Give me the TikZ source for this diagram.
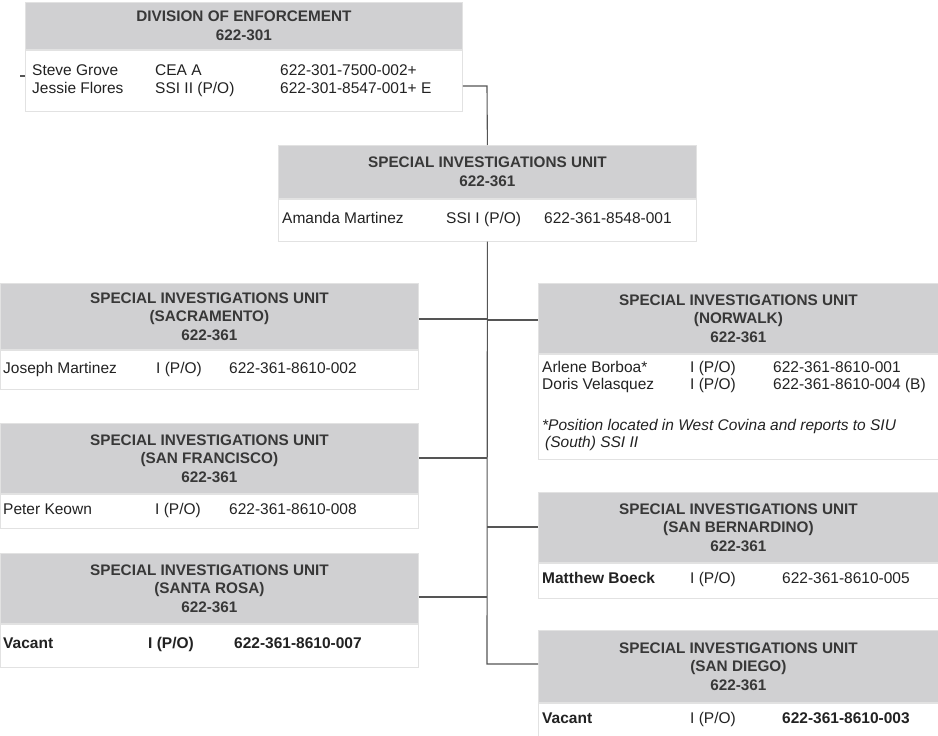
\documentclass[tikz,border=0pt]{standalone}
\usepackage{fontspec}
\setmainfont{Liberation Sans}
\definecolor{hdrgray}{HTML}{D0D0D2}
\definecolor{bordergray}{HTML}{E2E2E2}
\definecolor{hdrtext}{HTML}{383838}
\definecolor{bodytext}{HTML}{222222}
\definecolor{linegray}{HTML}{555555}
\tikzset{
  hdr/.style={fill=hdrgray, draw=bordergray, line width=0.8pt, text=hdrtext,
    font=\bfseries\fontsize{15.3}{18.5}\selectfont, align=center, inner sep=0pt, anchor=north west},
  bodybox/.style={fill=white, draw=bordergray, line width=0.8pt, inner sep=0pt, anchor=north west},
  txt/.style={anchor=base west, yshift=-5.5pt, inner sep=0pt, text=bodytext, font=\fontsize{15.5}{18}\selectfont},
  btxt/.style={txt, font=\bfseries\fontsize{15.5}{18}\selectfont},
  itxt/.style={txt, font=\itshape\fontsize{15.5}{18}\selectfont},
  conn/.style={draw=linegray, line width=1.1pt}
}
\begin{document}
\begin{tikzpicture}[x=1pt,y=-1pt]
\useasboundingbox (0,0) rectangle (938,736);

% ---- Division of Enforcement
\node[hdr, minimum width=437pt, minimum height=47pt] (doeH) at (25,2) {DIVISION OF ENFORCEMENT\\622-301};
\node[bodybox, minimum width=437pt, minimum height=61pt] (doeB) at (doeH.south west) {};
\node[txt] (doeN1) at (32,70) {Steve Grove};
\node[txt] (doeT1) at (155,70) {CEA A};
\node[txt] (doeP1) at (280,70) {622-301-7500-002+};
\node[txt] (doeN2) at (32,88) {Jessie Flores};
\node[txt] (doeT2) at (155,88) {SSI II (P/O)};
\node[txt] (doeP2) at (280,88) {622-301-8547-001+ E};

% ---- SIU
\node[hdr, minimum width=418pt, minimum height=53pt] (siuH) at (278,145) {SPECIAL INVESTIGATIONS UNIT\\622-361};
\node[bodybox, minimum width=418pt, minimum height=42pt] (siuB) at (siuH.south west) {};
\node[txt] (siuN1) at (282,218) {Amanda Martinez};
\node[txt] (siuT1) at (446,218) {SSI I (P/O)};
\node[txt] (siuP1) at (544,218) {622-361-8548-001};

% ---- Sacramento
\node[hdr, minimum width=418pt, minimum height=66pt] (sacH) at (0,283) {SPECIAL INVESTIGATIONS UNIT\\(SACRAMENTO)\\622-361};
\node[bodybox, minimum width=418pt, minimum height=39pt] (sacB) at (sacH.south west) {};
\node[txt] (sacN1) at (3,368) {Joseph Martinez};
\node[txt] (sacT1) at (156,368) {I (P/O)};
\node[txt] (sacP1) at (229,368) {622-361-8610-002};

% ---- San Francisco
\node[hdr, minimum width=418pt, minimum height=70pt] (sfH) at (0,423) {SPECIAL INVESTIGATIONS UNIT\\(SAN FRANCISCO)\\622-361};
\node[bodybox, minimum width=418pt, minimum height=34pt] (sfB) at (sfH.south west) {};
\node[txt] (sfN1) at (3,509) {Peter Keown};
\node[txt] (sfT1) at (155,509) {I (P/O)};
\node[txt] (sfP1) at (229,509) {622-361-8610-008};

% ---- Santa Rosa
\node[hdr, minimum width=418pt, minimum height=70pt] (srH) at (0,553) {SPECIAL INVESTIGATIONS UNIT\\(SANTA ROSA)\\622-361};
\node[bodybox, minimum width=418pt, minimum height=43pt] (srB) at (srH.south west) {};
\node[btxt] (srN1) at (3,643) {Vacant};
\node[btxt] (srT1) at (148,643) {I (P/O)};
\node[btxt] (srP1) at (234,643) {622-361-8610-007};

% ---- Norwalk
\node[hdr, minimum width=400pt, minimum height=70pt] (norH) at (538,283) {SPECIAL INVESTIGATIONS UNIT\\(NORWALK)\\622-361};
\node[bodybox, minimum width=400pt, minimum height=105pt] (norB) at (norH.south west) {};
\node[txt] (norN1) at (542,367) {Arlene Borboa*};
\node[txt] (norT1) at (690,367) {I (P/O)};
\node[txt] (norP1) at (773,367) {622-361-8610-001};
\node[txt] (norN2) at (542,384) {Doris Velasquez};
\node[txt] (norT2) at (690,384) {I (P/O)};
\node[txt] (norP2) at (773,384) {622-361-8610-004 (B)};
\node[itxt] (norF1) at (542,425) {*Position located in West Covina and reports to SIU};
\node[itxt] (norF2) at (545,442) {(South) SSI II};

% ---- San Bernardino
\node[hdr, minimum width=400pt, minimum height=70pt] (sbH) at (538,492) {SPECIAL INVESTIGATIONS UNIT\\(SAN BERNARDINO)\\622-361};
\node[bodybox, minimum width=400pt, minimum height=35pt] (sbB) at (sbH.south west) {};
\node[btxt] (sbN1) at (542,578) {Matthew Boeck};
\node[txt] (sbT1) at (690,578) {I (P/O)};
\node[txt] (sbP1) at (782,578) {622-361-8610-005};

% ---- San Diego
\node[hdr, minimum width=400pt, minimum height=72pt] (sdH) at (538,630) {SPECIAL INVESTIGATIONS UNIT\\(SAN DIEGO)\\622-361};
\node[bodybox, minimum width=400pt, minimum height=33pt] (sdB) at (sdH.south west) {};
\node[btxt] (sdN1) at (542,718) {Vacant};
\node[txt] (sdT1) at (690,718) {I (P/O)};
\node[btxt] (sdP1) at (782,718) {622-361-8610-003};

% ---- connectors
\coordinate (jTop) at (487,86);
\coordinate (stub) at (20,76);
\coordinate (bSac) at (487,319);
\coordinate (bNor) at (487,320);
\coordinate (bSF)  at (487,458);
\coordinate (bSB)  at (487,527);
\coordinate (bSR)  at (487,597);
\coordinate (bSD)  at (487,664);

\draw[conn] (stub) -- (doeB.west |- stub);
\draw[conn] (doeB.east |- jTop) -- (jTop) -- (siuH.north);
\draw[conn] (siuB.south) -- (bSD) -- (sdH.west |- bSD);
\draw[conn] (sacH.east |- bSac) -- (bSac);
\draw[conn] (bNor) -- (norH.west |- bNor);
\draw[conn] (sfH.east |- bSF) -- (bSF);
\draw[conn] (bSB) -- (sbH.west |- bSB);
\draw[conn] (srH.east |- bSR) -- (bSR);
\end{tikzpicture}
\end{document}
